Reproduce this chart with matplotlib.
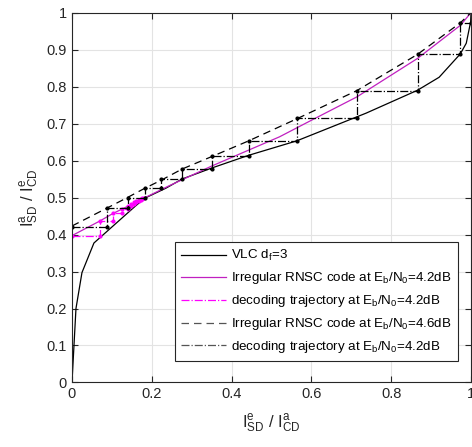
import matplotlib
matplotlib.use('Agg')
import matplotlib.pyplot as plt
from matplotlib.lines import Line2D

plt.rcParams['font.family'] = ['Liberation Sans', 'DejaVu Sans']
plt.rcParams['mathtext.fontset'] = 'custom'
plt.rcParams['mathtext.rm'] = 'Liberation Sans'
plt.rcParams['mathtext.it'] = 'Liberation Sans'

# VLC d_f=3 EXIT curve
vlc_x = [0, 0.01, 0.025, 0.055, 0.157, 0.182, 0.235, 0.276, 0.351, 0.4425, 0.563, 0.737, 0.866, 0.92, 0.973, 0.988, 0.999, 1.0]
vlc_y = [0, 0.2, 0.297, 0.377, 0.475, 0.498, 0.525, 0.55, 0.58, 0.614, 0.653, 0.728, 0.79, 0.825, 0.888, 0.917, 0.975, 1.0]

# irregular RNSC code, Eb/N0 = 4.2 dB
rnsc42_x = [0, 0.069, 0.103, 0.126, 0.141, 0.18, 0.24, 0.3, 0.35, 0.4425, 0.52, 0.595, 0.714, 0.866, 0.92, 0.974, 1.0]
rnsc42_y = [0.397, 0.436, 0.457, 0.469, 0.477, 0.498, 0.53, 0.56, 0.585, 0.628, 0.664, 0.706, 0.772, 0.876, 0.921, 0.966, 1.0]

# irregular RNSC code, Eb/N0 = 4.6 dB
rnsc46_x = [0, 0.087, 0.139, 0.1825, 0.224, 0.276, 0.351, 0.4425, 0.564, 0.714, 0.866, 0.973, 1.0]
rnsc46_y = [0.423, 0.471, 0.50, 0.525, 0.547, 0.577, 0.611, 0.653, 0.713, 0.789, 0.887, 0.972, 1.0]

# decoding trajectory at 4.2 dB
traj42_x = [0, 0.069, 0.069, 0.103, 0.103, 0.126, 0.126, 0.141, 0.141, 0.149, 0.149, 0.155, 0.155,
            0.16, 0.16, 0.1675, 0.1675, 0.172, 0.172, 0.176, 0.176, 0.18]
traj42_y = [0.397, 0.397, 0.436, 0.436, 0.457, 0.457, 0.469, 0.469, 0.477, 0.477, 0.483, 0.483, 0.487,
            0.487, 0.491, 0.491, 0.494, 0.494, 0.496, 0.496, 0.498, 0.498]

# decoding trajectory (second one)
traj46_x = [0, 0.088, 0.088, 0.14, 0.14, 0.183, 0.183, 0.224, 0.224, 0.276, 0.276, 0.351, 0.351,
            0.4425, 0.4425, 0.563, 0.563, 0.714, 0.714, 0.866, 0.866, 0.973, 0.973, 1.0]
traj46_y = [0.421, 0.421, 0.471, 0.471, 0.50, 0.50, 0.525, 0.525, 0.549, 0.549, 0.578, 0.578, 0.612,
            0.612, 0.653, 0.653, 0.714, 0.714, 0.789, 0.789, 0.887, 0.887, 0.972, 0.972]

labels = [r'VLC d$_f$=3',
          r'Irregular RNSC code at E$_b$/N$_0$=4.2dB',
          r'decoding trajectory at E$_b$/N$_0$=4.2dB',
          r'Irregular RNSC code at E$_b$/N$_0$=4.6dB',
          r'decoding trajectory at E$_b$/N$_0$=4.2dB']

fig = plt.figure(figsize=(4.72, 4.47), dpi=100)
ax = fig.add_axes([0.1525, 0.1443, 0.8455, 0.8277])

ax.plot(vlc_x, vlc_y, color='black', lw=0.9)
ax.plot(rnsc42_x, rnsc42_y, color='#c020c0', lw=0.9)
ax.plot(traj42_x, traj42_y, color='#ff00ff', lw=0.9, ls='-.', marker='.', ms=4)
ax.plot(rnsc46_x, rnsc46_y, color='black', lw=0.9, ls=(0, (6, 4)))
ax.plot(traj46_x, traj46_y, color='black', lw=0.9, ls='-.', marker='.', ms=4)

handles = [Line2D([], [], color='black', lw=0.9),
           Line2D([], [], color='#c020c0', lw=0.9),
           Line2D([], [], color='#ff00ff', lw=0.9, ls='-.'),
           Line2D([], [], color='#555555', lw=0.9, ls=(0, (6, 4))),
           Line2D([], [], color='#555555', lw=0.9, ls='-.')]

ax.set_xlim(0, 1)
ax.set_ylim(0, 1)
ax.set_xticks([0, 0.2, 0.4, 0.6, 0.8, 1])
ax.set_xticklabels(['0', '0.2', '0.4', '0.6', '0.8', '1'])
ax.set_yticks([0, 0.1, 0.2, 0.3, 0.4, 0.5, 0.6, 0.7, 0.8, 0.9, 1])
ax.set_yticklabels(['0', '0.1', '0.2', '0.3', '0.4', '0.5', '0.6', '0.7', '0.8', '0.9', '1'])
ax.tick_params(direction='in', top=True, right=True, labelsize=10.5, colors='#262626', length=4)
ax.grid(color='#e3e3e3', lw=0.8)
for s in ax.spines.values():
    s.set_color('#262626')
    s.set_linewidth(0.8)

ax.set_xlabel(r'I$^e_{SD}$ / I$^a_{CD}$', fontsize=12, color='#262626', labelpad=8)
ax.set_ylabel(r'I$^a_{SD}$ / I$^e_{CD}$', fontsize=12, color='#262626', labelpad=4)

leg = ax.legend(handles, labels, loc='upper left', bbox_to_anchor=(0.257, 0.379), borderaxespad=0,
                fontsize=9.6, handlelength=3.4, handletextpad=0.4, labelspacing=0.52,
                fancybox=False, framealpha=1, edgecolor='#262626', borderpad=0.45)
leg.get_frame().set_linewidth(0.8)

fig.savefig('out.png', dpi=100)
